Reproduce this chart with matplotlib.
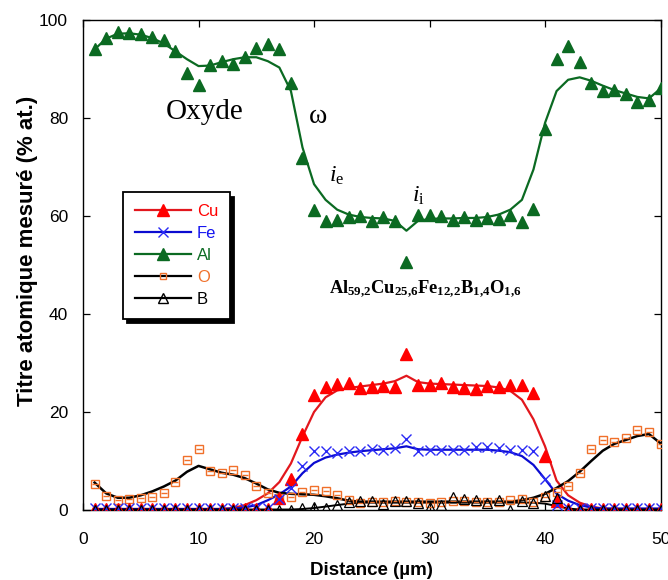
import matplotlib
matplotlib.use("Agg")
import matplotlib.pyplot as plt
from matplotlib.lines import Line2D
import numpy as np

plt.rcParams['font.family'] = ['Liberation Sans', 'DejaVu Sans']
plt.rcParams['mathtext.fontset'] = 'custom'
plt.rcParams['mathtext.rm'] = 'Liberation Serif'
plt.rcParams['mathtext.it'] = 'Liberation Serif:italic'
plt.rcParams['mathtext.bf'] = 'Liberation Serif:bold'

# Distance (um), one measure per micron
distance = np.arange(1, 51)

# Measured points (% at.)
al_pts = [94.0, 96.4, 97.5, 97.3, 97.1, 96.6, 96.0, 93.7, 89.1, 86.7,
          90.9, 91.7, 91.0, 92.4, 94.3, 95.2, 94.0, 87.1, 71.9, 61.2,
          59.0, 59.2, 59.7, 59.9, 59.0, 59.7, 59.0, 50.7, 60.2, 60.2,
          59.9, 59.1, 59.7, 59.2, 59.5, 59.4, 60.2, 58.8, 61.4, 77.8,
          92.0, 94.6, 91.5, 87.1, 85.6, 85.7, 84.9, 83.2, 83.7, 86.2]
cu_pts = [0.2] * 16 + [2.4, 6.3, 15.5, 23.4, 25.2, 25.7, 26.0, 24.9, 25.2, 25.4,
                       25.0, 31.8, 25.5, 25.5, 25.9, 25.1, 24.8, 24.7, 25.3, 25.2,
                       25.6, 25.5, 23.9, 11.0, 1.9] + [0.2] * 9
fe_pts = [0.5] * 16 + [2.2, 4.4, 8.9, 12.0, 12.0, 11.7, 12.0, 12.1, 12.5, 12.3,
                       12.6, 14.4, 12.1, 12.3, 12.3, 12.3, 12.3, 12.9, 12.8, 12.6,
                       12.3, 12.2, 12.1, 6.4, 1.0] + [0.5] * 9
o_pts = [5.4, 2.9, 2.0, 2.2, 2.4, 2.6, 3.5, 5.8, 10.3, 12.4,
         8.0, 7.5, 8.2, 7.1, 4.9, 3.4, 2.4, 2.7, 3.7, 4.1,
         3.9, 3.1, 2.0, 1.4, 1.6, 1.7, 1.9, 1.7, 1.7, 1.5,
         1.6, 1.9, 1.9, 1.7, 1.7, 1.7, 2.0, 2.2, 1.7, 2.7,
         3.7, 4.8, 7.6, 12.4, 14.3, 13.8, 14.6, 16.3, 15.9, 13.4]
b_pts = [0.1] * 16 + [0.0, 0.1, 0.5, 0.7, 0.5, 1.0, 1.7, 1.9, 1.8, 1.2,
                      1.9, 1.9, 1.4, 0.7, 1.0, 2.6, 2.2, 2.0, 1.5, 2.0,
                      0.0, 1.9, 1.5, 2.9, 2.4] + [0.0] * 9

# Fitted profiles
al_fit = [94.0, 96.2, 97.2, 97.3, 97.0, 96.3, 95.2, 93.6, 92.0, 90.6,
          90.7, 91.4, 92.0, 92.4, 92.4, 91.6, 90.3, 85.5, 74.0, 66.5,
          63.3, 61.3, 60.3, 59.8, 59.6, 59.5, 59.0, 57.0, 59.0, 59.4,
          59.5, 59.5, 59.6, 59.6, 59.8, 60.3, 61.3, 63.3, 69.5, 79.0,
          85.5, 87.8, 88.3, 87.6, 86.6, 85.7, 85.0, 84.3, 84.0, 86.0]
cu_fit = [0.2] * 12 + [0.4, 1.0, 2.0, 3.4, 5.7, 9.5, 15.0, 20.0,
                       23.0, 24.4, 24.9, 25.2, 25.5, 25.8, 26.3, 27.4, 26.1, 25.8,
                       25.7, 25.6, 25.5, 25.4, 25.3, 25.0, 24.3, 22.5, 18.5, 13.0,
                       6.0, 3.0, 1.5, 0.7, 0.3] + [0.2] * 5
fe_fit = [0.2] * 12 + [0.3, 0.5, 1.0, 2.0, 3.2, 4.8, 7.5, 9.6,
                       10.7, 11.3, 11.7, 12.0, 12.2, 12.4, 12.6, 13.0, 12.4, 12.3,
                       12.3, 12.3, 12.3, 12.3, 12.3, 12.1, 11.8, 11.0, 9.2, 6.3,
                       3.3, 1.9, 1.0, 0.5] + [0.3] * 6
o_fit = [5.6, 3.4, 2.5, 2.5, 3.0, 3.8, 4.8, 6.0, 7.8, 9.0,
         8.3, 7.6, 7.2, 6.5, 5.4, 4.2, 3.5, 3.3, 3.2, 3.1,
         2.8, 2.4, 1.9, 1.7] + [1.7] * 13 + [2.0, 2.5, 3.3, 4.5, 5.9, 7.8,
                                             10.0, 12.1, 13.5, 14.3, 15.1, 15.5, 13.6]
b_fit = [0.1] * 18 + [0.2, 0.4, 0.7, 1.0, 1.3, 1.5] + [1.5] * 15 + [1.3, 0.8, 0.3] + [0.1] * 8

c_red = '#FF0000'
c_redline = '#E2171D'
c_blue = '#2A2AF5'
c_blueline = '#0B0BD0'
c_green = '#0B6A22'
c_orange = '#F0702A'

fig = plt.figure(figsize=(6.68, 5.8), dpi=100)
ax = fig.add_axes([0.1243, 0.1207, 0.8645, 0.8448])

# fitted curves
ax.plot(distance, cu_fit, color=c_redline, lw=1.6, zorder=2)
ax.plot(distance, fe_fit, color=c_blueline, lw=1.6, zorder=2)
ax.plot(distance, al_fit, color=c_green, lw=1.6, zorder=2)
ax.plot(distance, o_fit, color='black', lw=1.8, zorder=2)
ax.plot(distance, b_fit, color='black', lw=1.4, zorder=2)

# measured points
ax.plot(distance, o_pts, ls='none', marker='s', ms=6, mfc='none', mec=c_orange, mew=1.0, zorder=3)
ax.plot(distance, o_pts, ls='none', marker='_', ms=4.5, mec=c_orange, mew=1.0, zorder=3)
ax.plot(distance, cu_pts, ls='none', marker='^', ms=8, color=c_red, mec=c_red, zorder=4)
ax.plot(distance, fe_pts, ls='none', marker='x', ms=7, mec=c_blue, mew=1.0, zorder=5)
ax.plot(distance, al_pts, ls='none', marker='^', ms=8, color=c_green, mec=c_green, zorder=4)
ax.plot(distance, b_pts, ls='none', marker='^', ms=7.5, mfc='none', mec='black', mew=0.9, zorder=6)

ax.set_xlim(0, 50)
ax.set_ylim(0, 100)
ax.set_xticks([0, 10, 20, 30, 40, 50])
ax.set_yticks([0, 20, 40, 60, 80, 100])
ax.tick_params(direction='in', length=5, width=0.9, top=True, right=True, labelsize=12.5)
ax.tick_params(axis='x', pad=16)
ax.tick_params(axis='y', pad=10.8)
for s in ax.spines.values():
    s.set_linewidth(1.0)

ax.set_xlabel('Distance (µm)', fontsize=13.5, fontweight='bold')
ax.set_ylabel('Titre atomique mesuré (% at.)', fontsize=16, fontweight='bold')
ax.xaxis.set_label_coords(0.5, -0.106)
ax.yaxis.set_label_coords(-0.078, 0.529)

# annotations
ax.text(10.56, 79.8, 'Oxyde', family='Liberation Serif', fontsize=21, ha='center', va='baseline')
ax.text(20.37, 78.9, 'ω', family='Liberation Serif', fontsize=20, ha='center', va='baseline')
ax.text(21.3, 67.0, r'$i_{\mathrm{e}}$', fontsize=17, ha='left', va='baseline')
ax.text(28.45, 62.9, r'$i_{\mathrm{i}}$', fontsize=17, ha='left', va='baseline')
ax.text(21.3, 44.2, r'$\mathbf{Al_{59{,}2}Cu_{25{,}6}Fe_{12{,}2}B_{1{,}4}O_{1{,}6}}$',
        fontsize=13.3, ha='left', va='baseline')

# legend
handles = [
    Line2D([], [], color=c_redline, lw=1.6, marker='^', ms=8, mfc=c_red, mec=c_red),
    Line2D([], [], color=c_blueline, lw=1.6, marker='x', ms=7, mec=c_blue),
    Line2D([], [], color=c_green, lw=1.6, marker='^', ms=8, mfc=c_green, mec=c_green),
    Line2D([], [], color='black', lw=1.6, marker='s', ms=5, mfc='none', mec=c_orange),
    Line2D([], [], color='black', lw=1.6, marker='^', ms=6.5, mfc='none', mec='black'),
]
labels = ['Cu', 'Fe', 'Al', 'O', 'B']
leg = ax.legend(handles, labels, loc='upper left', bbox_to_anchor=(0.069, 0.648),
                borderaxespad=0, fontsize=12, handlelength=3.4, handletextpad=0.35,
                labelspacing=0.42, borderpad=0.7, fancybox=False, framealpha=1,
                edgecolor='black', shadow={'color': 'black', 'alpha': 1, 'ox': 3, 'oy': -3})
leg.get_frame().set_linewidth(1.3)
for t, c in zip(leg.get_texts(), [c_red, '#1515F0', c_green, c_orange, 'black']):
    t.set_color(c)

fig.savefig('out.png', dpi=100, facecolor='white')
